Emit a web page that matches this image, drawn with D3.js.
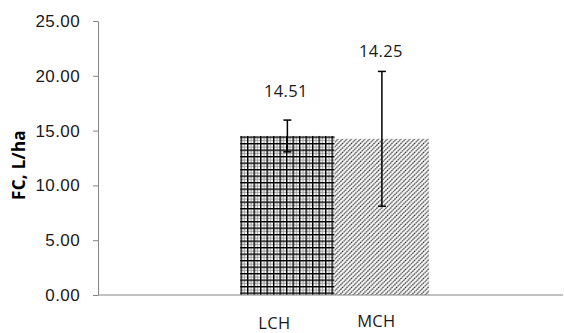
<!DOCTYPE html>
<meta charset="utf-8">
<style>
body { margin: 0; background: #fff; }
svg { display: block; font-family: 'Open Sans', sans-serif; }
.axis path, .axis line { stroke: #868686; }
.axis text { fill: #1a1a1a; font-size: 17px; letter-spacing: 0.4px; }
.label { fill: #1a1a1a; font-size: 16.5px; letter-spacing: 0.3px; }
.ytitle { fill: #000; font-size: 17px; font-weight: bold; letter-spacing: 0.3px; }
.err { stroke: #000; stroke-width: 1.5px; }
</style>
<body>
<svg width="564" height="333"></svg>
<script src="https://d3js.org/d3.v7.min.js"></script>
<script>

var categories = ["LCH", "MCH"];
var means = [14.51, 14.25];
var errors = [1.45, 6.15];
var valueLabels = ["14.51", "14.25"];
var yTicks = [0, 5, 10, 15, 20, 25];

(function() {
  var svg = d3.select("svg");
  var left = 98, right = 563, top = 21, bottom = 295;

  var y = d3.scaleLinear().domain([0, 25]).range([bottom, top]);
  var x = d3.scaleBand().domain(categories).range([left, right])
      .paddingInner(0).paddingOuter(1.46).align(0.515);

  var defs = svg.append("defs");

  // plaid-ish grid for LCH
  var grid = defs.append("pattern")
      .attr("id", "grid")
      .attr("patternUnits", "userSpaceOnUse")
      .attr("width", 6.5).attr("height", 6.5);
  grid.append("rect").attr("width", 6.5).attr("height", 6.5).attr("fill", "#fff");
  grid.append("rect").attr("x", 3.5).attr("width", 1).attr("height", 6.5).attr("fill", "#999");
  grid.append("rect").attr("y", 3.5).attr("width", 6.5).attr("height", 1).attr("fill", "#999");
  grid.append("rect").attr("x", 0).attr("width", 1.4).attr("height", 6.5).attr("fill", "#000");
  grid.append("rect").attr("y", 0).attr("width", 6.5).attr("height", 1.4).attr("fill", "#000");

  // upward diagonal for MCH
  var diag = defs.append("pattern")
      .attr("id", "diag")
      .attr("patternUnits", "userSpaceOnUse")
      .attr("width", 4.5).attr("height", 4.5);
  diag.append("rect").attr("width", 4.5).attr("height", 4.5).attr("fill", "#fff");
  diag.append("path")
      .attr("d", "M-1,1 L1,-1 M0,4.5 L4.5,0 M3.5,5.5 L5.5,3.5")
      .attr("stroke", "#222")
      .attr("stroke-width", 1.1)
      .attr("stroke-dasharray", "1.6,0.5");

  var fills = ["url(#grid)", "url(#diag)"];

  svg.append("g")
      .attr("class", "axis")
      .attr("transform", "translate(" + left + ",0)")
      .call(d3.axisLeft(y).tickValues(yTicks).tickFormat(d3.format(".2f"))
        .tickSize(5).tickSizeOuter(0).tickPadding(13));

  svg.selectAll(".bar")
      .data(categories)
    .enter().append("rect")
      .attr("class", "bar")
      .attr("x", function(d) { return x(d); })
      .attr("width", x.bandwidth())
      .attr("y", function(d, i) { return y(means[i]); })
      .attr("height", function(d, i) { return y(0) - y(means[i]); })
      .attr("fill", function(d, i) { return fills[i]; });

  // x axis line
  svg.append("g")
      .attr("class", "axis")
      .append("line")
      .attr("x1", left).attr("x2", right)
      .attr("y1", y(0)).attr("y2", y(0));

  // error bars
  var eb = svg.selectAll(".eb")
      .data(categories)
    .enter().append("g")
      .attr("class", "err")
      .attr("transform", function(d) { return "translate(" + (x(d) + x.bandwidth() / 2) + ",0)"; });
  eb.append("line")
      .attr("y1", function(d, i) { return y(means[i] + errors[i]); })
      .attr("y2", function(d, i) { return y(means[i] - errors[i]); });
  eb.append("line")
      .attr("x1", -4).attr("x2", 4)
      .attr("y1", function(d, i) { return y(means[i] + errors[i]); })
      .attr("y2", function(d, i) { return y(means[i] + errors[i]); });
  eb.append("line")
      .attr("x1", -4).attr("x2", 4)
      .attr("y1", function(d, i) { return y(means[i] - errors[i]); })
      .attr("y2", function(d, i) { return y(means[i] - errors[i]); });

  // value labels (placed by hand in the original)
  var lift = [23, 14.5], shiftX = [-1.5, -1];
  svg.selectAll(".vl")
      .data(categories)
    .enter().append("text")
      .attr("class", "label")
      .attr("text-anchor", "middle")
      .attr("x", function(d, i) { return x(d) + x.bandwidth() / 2 + shiftX[i]; })
      .attr("y", function(d, i) { return y(means[i] + errors[i]) - lift[i]; })
      .text(function(d, i) { return valueLabels[i]; });

  // category labels
  var catDx = [-13, -5.5], catY = [329, 327];
  svg.selectAll(".cl")
      .data(categories)
    .enter().append("text")
      .attr("class", "label")
      .attr("text-anchor", "middle")
      .attr("x", function(d, i) { return x(d) + x.bandwidth() / 2 + catDx[i]; })
      .attr("y", function(d, i) { return catY[i]; })
      .text(function(d) { return d; });

  svg.append("text")
      .attr("class", "ytitle")
      .attr("text-anchor", "middle")
      .attr("transform", "translate(25,165) rotate(-90)")
      .text("FC, L/ha");
})();

</script>
</body>
